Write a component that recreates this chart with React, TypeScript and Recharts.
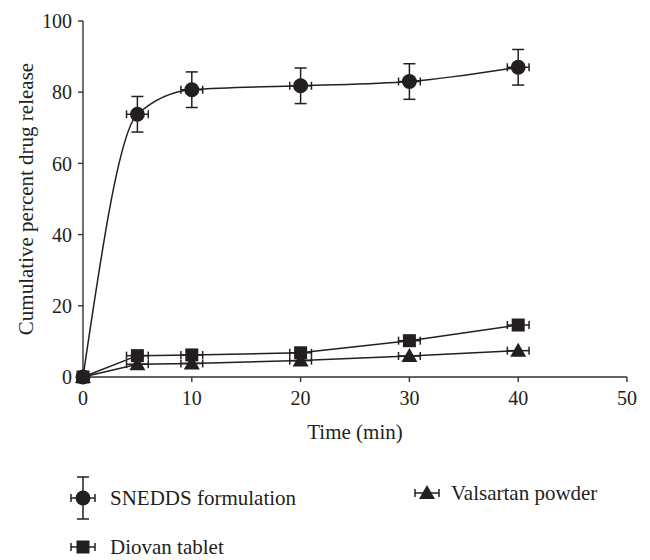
import React from 'react';
import { ScatterChart, Scatter, XAxis, YAxis, ErrorBar } from 'recharts';

const INK = '#231f20';
const FONT = '"Liberation Serif", "Times New Roman", serif';

// time points (min) and read-off release values (%)
const times = [0, 5, 10, 20, 30, 40];
const timeErr = [0, 1, 1, 1, 1, 1];
const snedds = [0, 73.8, 80.7, 81.8, 83.0, 87.0];
const sneddsErr = [0, 5, 5, 5, 5, 5];
const diovan = [0, 6.0, 6.2, 6.8, 10.2, 14.6];
const valsartan = [0, 3.6, 3.8, 4.6, 5.9, 7.4];

const xTicks = [0, 10, 20, 30, 40, 50];
const yTicks = [0, 20, 40, 60, 80, 100];

const seriesNames = ['SNEDDS formulation', 'Diovan tablet', 'Valsartan powder'];

const toPoints = (ys: number[], yErr?: number[]) =>
  times.map((t, i) => ({ x: t, y: ys[i], xErr: timeErr[i], yErr: yErr ? yErr[i] : 0 }));

const sneddsData = toPoints(snedds, sneddsErr);
const diovanData = toPoints(diovan);
const valsartanData = toPoints(valsartan);

function Circle(props: any) {
  const { cx, cy } = props;
  return <circle cx={cx} cy={cy} r={7.5} fill={INK} />;
}

function Square(props: any) {
  const { cx, cy } = props;
  return <rect x={cx - 6.5} y={cy - 6.5} width={13} height={13} fill={INK} />;
}

function Triangle(props: any) {
  const { cx, cy } = props;
  return <polygon points={`${cx - 8},${cy + 6} ${cx + 8},${cy + 6} ${cx},${cy - 8}`} fill={INK} />;
}

function YLabel(props: any) {
  const vb = props.viewBox || {};
  const cy = vb.y + vb.height / 2;
  const cx = 26;
  return (
    <text
      x={cx}
      y={cy}
      transform={`rotate(-90, ${cx}, ${cy})`}
      textAnchor="middle"
      dominantBaseline="central"
      fontFamily={FONT}
      fontSize={21}
      fill={INK}
    >
      Cumulative percent drug release
    </text>
  );
}

function XBar({ x, y }: { x: number; y: number }) {
  return (
    <g stroke={INK} strokeWidth={1.5}>
      <line x1={x - 12} y1={y} x2={x + 12} y2={y} />
      <line x1={x - 12} y1={y - 4} x2={x - 12} y2={y + 4} />
      <line x1={x + 12} y1={y - 4} x2={x + 12} y2={y + 4} />
    </g>
  );
}

function LegendOverlay() {
  const text = { fontFamily: FONT, fontSize: 21, fill: INK } as const;
  return (
    <svg
      width={650}
      height={560}
      style={{ position: 'absolute', left: 0, top: 0, pointerEvents: 'none' }}
    >
      {/* SNEDDS */}
      <XBar x={83} y={498} />
      <g stroke={INK} strokeWidth={1.5}>
        <line x1={83} y1={477} x2={83} y2={519} />
        <line x1={77} y1={477} x2={89} y2={477} />
        <line x1={77} y1={519} x2={89} y2={519} />
      </g>
      <circle cx={83} cy={498} r={7.5} fill={INK} />
      <text x={110} y={505} {...text}>{seriesNames[0]}</text>

      {/* Diovan */}
      <XBar x={83} y={547} />
      <rect x={76.5} y={540.5} width={13} height={13} fill={INK} />
      <text x={110} y={554} {...text}>{seriesNames[1]}</text>

      {/* Valsartan */}
      <XBar x={427} y={493} />
      <polygon points="419,499 435,499 427,485" fill={INK} />
      <text x={451} y={500} {...text}>{seriesNames[2]}</text>
    </svg>
  );
}

export default function App() {
  const axisTick = { fontFamily: FONT, fontSize: 20, fill: INK };
  const axisLine = { stroke: '#333', strokeWidth: 1.4 };
  return (
    <div style={{ position: 'absolute', left: 0, top: 0, width: 650, height: 560, background: '#fff' }}>
      <ScatterChart width={650} height={560} margin={{ top: 21, right: 23, bottom: 0, left: 0 }}>
        <XAxis
          type="number"
          dataKey="x"
          domain={[0, 50]}
          ticks={xTicks}
          interval={0}
          height={183}
          tick={axisTick}
          tickSize={5}
          tickMargin={9}
          axisLine={axisLine}
          tickLine={axisLine}
          label={{
            value: 'Time (min)',
            position: 'insideTop',
            offset: 47,
            style: { fontFamily: FONT, fontSize: 21, fill: INK },
          }}
        />
        <YAxis
          type="number"
          dataKey="y"
          domain={[0, 100]}
          ticks={yTicks}
          interval={0}
          width={83}
          tick={axisTick}
          tickSize={5}
          tickMargin={6}
          axisLine={axisLine}
          tickLine={axisLine}
          label={{ content: <YLabel /> }}
        />
        <Scatter
          name={seriesNames[2]}
          data={valsartanData}
          shape={<Triangle />}
          line={{ stroke: INK, strokeWidth: 1.5 }}
          lineJointType="linear"
          isAnimationActive={false}
        >
          <ErrorBar dataKey="xErr" direction="x" width={4} stroke={INK} strokeWidth={1.5} />
        </Scatter>
        <Scatter
          name={seriesNames[1]}
          data={diovanData}
          shape={<Square />}
          line={{ stroke: INK, strokeWidth: 1.5 }}
          lineJointType="linear"
          isAnimationActive={false}
        >
          <ErrorBar dataKey="xErr" direction="x" width={4} stroke={INK} strokeWidth={1.5} />
        </Scatter>
        <Scatter
          name={seriesNames[0]}
          data={sneddsData}
          shape={<Circle />}
          line={{ stroke: INK, strokeWidth: 1.5 }}
          lineJointType="monotone"
          isAnimationActive={false}
        >
          <ErrorBar dataKey="xErr" direction="x" width={4} stroke={INK} strokeWidth={1.5} />
          <ErrorBar dataKey="yErr" direction="y" width={6} stroke={INK} strokeWidth={1.5} />
        </Scatter>
      </ScatterChart>
      <LegendOverlay />
    </div>
  );
}
